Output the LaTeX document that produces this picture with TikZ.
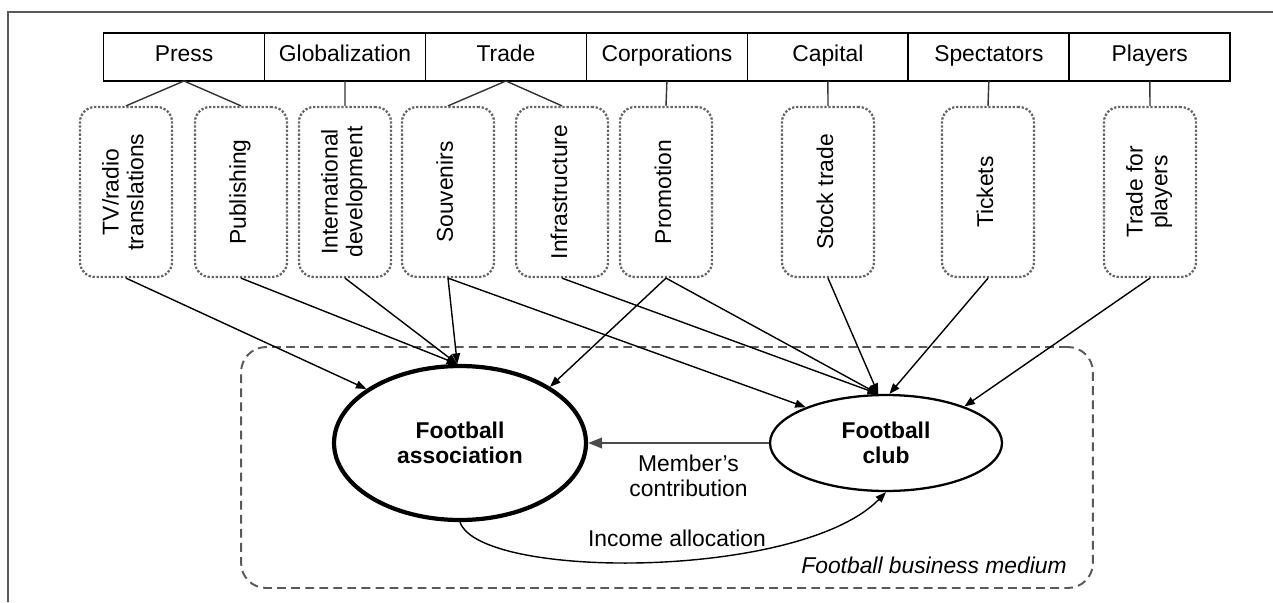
\documentclass[tikz,border=0pt]{standalone}
\usepackage{fontspec}
\setmainfont{Liberation Sans}
\usepackage{graphicx}
\usetikzlibrary{positioning,shapes.geometric,arrows.meta}
\newcommand{\labelfont}{\fontsize{13}{14.2}\selectfont}
\newcommand{\vtext}[1]{\rotatebox{90}{\begin{tabular}{@{}c@{}}#1\end{tabular}}}
\tikzset{
	>={Triangle[length=6pt,width=4.5pt]},
	sector/.style={draw, line width=1pt, minimum width=3.22cm, minimum height=0.96cm, outer sep=0pt, inner sep=0pt,
		text height=0.72em, text depth=0.22em},
	factor/.style={draw=black!60, densely dotted, line width=1.3pt, rounded corners=0.3cm, minimum width=1.84cm, minimum height=3.4cm, inner sep=0pt},
	link/.style={line width=0.8pt, draw=black!80},
	flow/.style={->, line width=0.8pt},
}
\begin{document}
\begin{tikzpicture}[x=0.02cm, y=-0.02cm, font=\labelfont]
        \useasboundingbox (0,0) rectangle (1273,602);
        \draw[line width=1.2pt, gray!70!black] (8,602) -- (8,12) -- (1273,12);

        % sectors
        \node[sector] (press) at (184,57) {Press};
        \node[sector, right=0pt of press] (global) {Globalization};
        \node[sector, right=0pt of global] (trade) {Trade};
        \node[sector, right=0pt of trade] (corp) {Corporations};
        \node[sector, right=0pt of corp] (capital) {Capital};
        \node[sector, right=0pt of capital] (spect) {Spectators};
        \node[sector, right=0pt of spect] (players) {Players};

        % income sources
        \node[factor] (tv) at (126,192) {\vtext{TV/radio\\translations}};
        \node[factor] (pub) at (241,192) {\vtext{Publishing}};
        \node[factor] (intl) at (345,192) {\vtext{International\\development}};
        \node[factor] (souv) at (448,192) {\vtext{Souvenirs}};
        \node[factor] (infra) at (562,192) {\vtext{Infrastructure}};
        \node[factor] (promo) at (666,192) {\vtext{Promotion}};
        \node[factor] (stock) at (828,192) {\vtext{Stock trade}};
        \node[factor] (tick) at (988,192) {\vtext{Tickets}};
        \node[factor] (tfp) at (1150,192) {\vtext{Trade for\\players}};

        \draw[link] (press.south) -- (tv.north);
        \draw[link] (press.south) -- (pub.north);
        \draw[link] (global.south) -- (intl.north);
        \draw[link] (trade.south) -- (souv.north);
        \draw[link] (trade.south) -- (infra.north);
        \draw[link] (corp.south) -- (promo.north);
        \draw[link] (capital.south) -- (stock.north);
        \draw[link] (spect.south) -- (tick.north);
        \draw[link] (players.south) -- (tfp.north);

        % business medium
        \node[draw=gray!70!black, dash pattern=on 5pt off 3pt, line width=1.1pt, rounded corners=0.5cm,
            minimum width=17.04cm, minimum height=4.82cm] (medium) at (667,467.5) {};
        \node[ellipse, draw, line width=2.4pt, minimum width=5.04cm, minimum height=3.08cm,
            align=center, font=\labelfont\bfseries] (fa) at (460,443) {Football\\association};
        \node[ellipse, draw, line width=1.3pt, minimum width=4.64cm, minimum height=1.92cm,
            align=center, font=\labelfont\bfseries] (fc) at (886,443) {Football\\club};

        \draw[flow] (tv.south) -- (fa.150);
        \draw[flow] (pub.south) -- (fa.92);
        \draw[flow] (intl.south) -- (fa.92);
        \draw[flow] (souv.south) -- (fa.92);
        \draw[flow] (souv.south) -- (fc.156);
        \draw[flow] (infra.south) -- (fc.99);
        \draw[flow] (promo.south) -- (fa.32);
        \draw[flow] (promo.south) -- (fc.99);
        \draw[flow] (stock.south) -- (fc.99);
        \draw[flow] (tick.south) -- (fc.86);
        \draw[flow] (tfp.south) -- (fc.25);

        \draw[->, >={Triangle[length=8pt,width=6pt]}, line width=1.4pt, draw=black!70] (fc.west) -- (fa.east)
            node[midway, below=3pt, xshift=0.2cm, align=center, text=black] (contrib) {Member’s\\contribution};
        \draw[flow] (fa.south) .. controls (480,580) and (800,580) .. (fc.south);
        \node (income) at (677,538) {Income allocation};
        \node[font=\labelfont\itshape] (mediumlabel) at (934,565) {Football business medium};
    \end{tikzpicture}
\end{document}
